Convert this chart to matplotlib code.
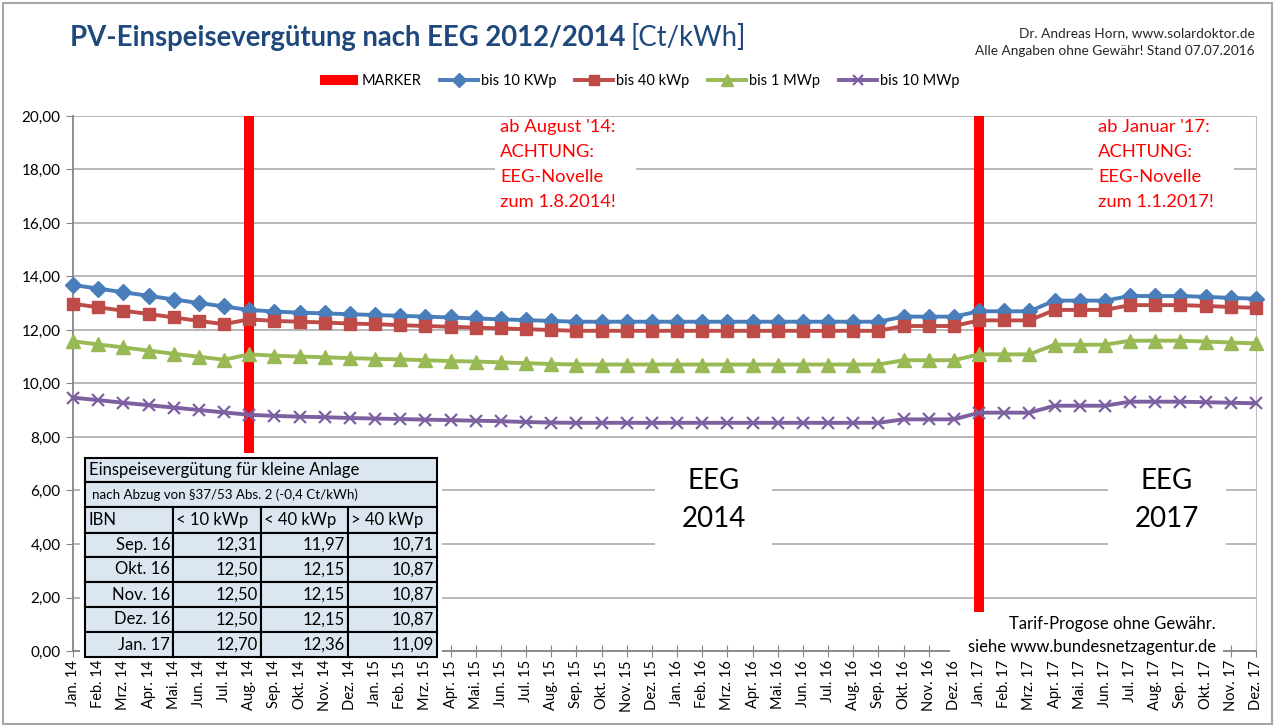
import matplotlib
matplotlib.use("Agg")
import matplotlib.pyplot as plt
from matplotlib.patches import Rectangle, Patch
from matplotlib.lines import Line2D
from matplotlib.ticker import FuncFormatter, MultipleLocator

plt.rcParams['font.family'] = ['Lato', 'DejaVu Sans']

# ---------------- data ----------------
years = ["14", "15", "16", "17"]
month_names = ["Jan.", "Feb.", "Mrz.", "Apr.", "Mai.", "Jun.", "Jul.", "Aug.",
               "Sep.", "Okt.", "Nov.", "Dez."]
months = [f"{m} {y}" for y in years for m in month_names]

marker_vals = [0, 0, 0, 0, 0, 0, 0, 20, 0, 0, 0, 0,
               0, 0, 0, 0, 0, 0, 0, 0, 0, 0, 0, 0,
               0, 0, 0, 0, 0, 0, 0, 0, 0, 0, 0, 0,
               20, 0, 0, 0, 0, 0, 0, 0, 0, 0, 0, 0]

bis_10kwp = [13.68, 13.55, 13.41, 13.28, 13.14, 13.01, 12.88, 12.75, 12.69, 12.65, 12.62, 12.59,
             12.56, 12.53, 12.50, 12.47, 12.43, 12.40, 12.37, 12.34, 12.31, 12.31, 12.31, 12.31,
             12.31, 12.31, 12.31, 12.31, 12.31, 12.31, 12.31, 12.31, 12.31, 12.50, 12.50, 12.50,
             12.70, 12.70, 12.70, 13.10, 13.10, 13.10, 13.27, 13.27, 13.27, 13.24, 13.20, 13.17]

bis_40kwp = [12.98, 12.85, 12.72, 12.60, 12.47, 12.34, 12.22, 12.40, 12.34, 12.31, 12.28, 12.24,
             12.22, 12.18, 12.15, 12.12, 12.09, 12.06, 12.03, 12.00, 11.97, 11.97, 11.97, 11.97,
             11.97, 11.97, 11.97, 11.97, 11.97, 11.97, 11.97, 11.97, 11.97, 12.15, 12.15, 12.15,
             12.36, 12.36, 12.36, 12.75, 12.75, 12.75, 12.93, 12.93, 12.93, 12.90, 12.86, 12.83]

bis_1mwp = [11.58, 11.46, 11.35, 11.23, 11.11, 11.00, 10.89, 11.09, 11.04, 11.01, 10.98, 10.95,
            10.92, 10.90, 10.87, 10.84, 10.82, 10.79, 10.76, 10.73, 10.71, 10.71, 10.71, 10.71,
            10.71, 10.71, 10.71, 10.71, 10.71, 10.71, 10.71, 10.71, 10.71, 10.87, 10.87, 10.87,
            11.09, 11.09, 11.09, 11.45, 11.45, 11.45, 11.60, 11.60, 11.60, 11.57, 11.53, 11.50]

bis_10mwp = [9.47, 9.38, 9.28, 9.19, 9.10, 9.01, 8.92, 8.83, 8.79, 8.76, 8.74, 8.71,
             8.69, 8.67, 8.65, 8.63, 8.61, 8.59, 8.56, 8.54, 8.53, 8.53, 8.53, 8.53,
             8.53, 8.53, 8.53, 8.53, 8.53, 8.53, 8.53, 8.53, 8.53, 8.66, 8.66, 8.66,
             8.91, 8.91, 8.91, 9.17, 9.17, 9.17, 9.32, 9.32, 9.32, 9.30, 9.28, 9.26]

series_names = ["bis 10 KWp", "bis 40 kWp", "bis 1 MWp", "bis 10 MWp"]

table_title = "Einspeisevergütung für kleine Anlage"
table_sub = "nach Abzug von §37/53 Abs. 2 (-0,4 Ct/kWh)"
table_header = ["IBN", "< 10 kWp", "< 40 kWp", "> 40 kWp"]
table_dates = ["Sep. 16", "Okt. 16", "Nov. 16", "Dez. 16", "Jan. 17"]
table_10 = ["12,31", "12,50", "12,50", "12,50", "12,70"]
table_40 = ["11,97", "12,15", "12,15", "12,15", "12,36"]
table_gt40 = ["10,71", "10,87", "10,87", "10,87", "11,09"]

# ---------------- figure ----------------
W, H = 1275, 725
fig = plt.figure(figsize=(12.75, 7.25), dpi=100)
fig.patch.set_facecolor('white')


def fx(x):
    return x / W


def fy(y):
    return 1 - y / H


ax = fig.add_axes([fx(73), fy(651), (1256 - 73) / W, (651 - 116) / H])
xs = list(range(len(months)))

ax.bar(xs, marker_vals, width=0.4, color='#FF0000', zorder=1.5)

styles = [
    dict(color='#4A7EBB', marker='D', ms=8),
    dict(color='#BE4B48', marker='s', ms=8.5),
    dict(color='#98B954', marker='^', ms=9.5),
    dict(color='#7D60A0', marker='x', ms=9, mew=1.6),
]
for vals, st in zip([bis_10kwp, bis_40kwp, bis_1mwp, bis_10mwp], styles):
    ax.plot(xs, vals, lw=2.8, clip_on=False, zorder=3, **st)

ax.set_xlim(0, len(months) - 1)
ax.set_ylim(0, 20)
ax.yaxis.set_major_locator(MultipleLocator(2))
ax.yaxis.set_major_formatter(FuncFormatter(lambda v, p: f"{v:.2f}".replace('.', ',')))
ax.set_xticks(xs)
ax.set_xticklabels(months, rotation=90, fontsize=10.5)
ax.tick_params(axis='y', labelsize=11, length=5, color='#868686', direction='out', pad=4)
ax.tick_params(axis='x', length=9, color='#868686', direction='inout', pad=2)
ax.grid(axis='y', color='#ABABAB', lw=1.2)
ax.set_axisbelow(True)
for s in ['left', 'bottom']:
    ax.spines[s].set_color('#868686')
    ax.spines[s].set_linewidth(1.3)
ax.spines['right'].set_color('#BFBFBF')
ax.spines['top'].set_visible(False)

# outer frame
fig.add_artist(Rectangle((fx(3), fy(724)), (1272 - 3) / W, (724 - 3) / H,
                         transform=fig.transFigure, fill=False,
                         edgecolor='#A6A6A6', lw=1.5))

# title
t1 = fig.text(fx(70), fy(38), "PV-Einspeisevergütung nach EEG 2012/2014",
              fontsize=19.8, fontweight='bold', color='#1F497D', va='center')
fig.canvas.draw()
bb = t1.get_window_extent()
fig.text(bb.x1 / W + 0.004, fy(38), "[Ct/kWh]", fontsize=19.8, color='#1F497D', va='center')

fig.text(fx(1255), fy(33), "Dr. Andreas Horn, www.solardoktor.de", fontsize=9.8,
         ha='right', va='center', color='#262626')
fig.text(fx(1255), fy(51), "Alle Angaben ohne Gewähr! Stand 07.07.2016", fontsize=9.8,
         ha='right', va='center', color='#262626')

# legend
handles = [Patch(facecolor='#FF0000', edgecolor='none', label="MARKER")]
for name, st in zip(series_names, styles):
    st2 = dict(st)
    st2['ms'] = st2['ms'] * 0.85
    handles.append(Line2D([], [], lw=2.8, label=name, **st2))
fig.legend(handles=handles, loc='center', bbox_to_anchor=(fx(640), fy(81)), ncol=5,
           frameon=False, fontsize=10.5, handlelength=2.6, handletextpad=0.2,
           columnspacing=1.3)


def white_box(x0, y0, x1, y1):
    fig.add_artist(Rectangle((fx(x0), fy(y1)), (x1 - x0) / W, (y1 - y0) / H,
                             transform=fig.transFigure, facecolor='white',
                             edgecolor='none', zorder=5))


# red notes
white_box(495, 117, 636, 216)
fig.text(fx(500), fy(119), "ab August '14:\nACHTUNG:\nEEG-Novelle\nzum 1.8.2014!",
         color='#FF0000', fontsize=13.2, va='top', ha='left', linespacing=1.68, zorder=6)
white_box(1093, 117, 1234, 216)
fig.text(fx(1098), fy(119), "ab Januar '17:\nACHTUNG:\nEEG-Novelle\nzum 1.1.2017!",
         color='#FF0000', fontsize=13.2, va='top', ha='left', linespacing=1.68, zorder=6)

# EEG labels
white_box(655, 455, 772, 545)
fig.text(fx(714), fy(500), "EEG\n2014", fontsize=20, ha='center', va='center',
         linespacing=1.6, zorder=6)
white_box(1108, 455, 1226, 545)
fig.text(fx(1167), fy(500), "EEG\n2017", fontsize=20, ha='center', va='center',
         linespacing=1.6, zorder=6)

# tarif note
white_box(950, 612, 1223, 660)
fig.text(fx(1216), fy(624), "Tarif-Progose ohne Gewähr.", fontsize=12, ha='right',
         va='center', zorder=6)
fig.text(fx(1216), fy(647), "siehe www.bundesnetzagentur.de", fontsize=12, ha='right',
         va='center', zorder=6)

# table
white_box(80, 453, 442, 660)
cell_fc = '#DCE6F1'


def cell(x0, y0, x1, y1):
    fig.add_artist(Rectangle((fx(x0), fy(y1)), (x1 - x0) / W, (y1 - y0) / H,
                             transform=fig.transFigure, facecolor=cell_fc,
                             edgecolor='black', lw=1.5, zorder=6))


col_edges = [85, 173, 261, 348, 437]
cell(85, 458, 437, 482)
fig.text(fx(89), fy(470), table_title, fontsize=12, va='center', ha='left', zorder=7)
cell(85, 482, 437, 507)
fig.text(fx(92), fy(495), table_sub, fontsize=9.6, va='center', ha='left', zorder=7)
for i, h in enumerate(table_header):
    cell(col_edges[i], 507, col_edges[i + 1], 533)
    fig.text(fx(col_edges[i] + 3), fy(520), h, fontsize=12, va='center', ha='left', zorder=7)
row_edges = [533, 557, 582, 607, 632, 657]
for r, vals in enumerate(zip(table_dates, table_10, table_40, table_gt40)):
    for c, v in enumerate(vals):
        cell(col_edges[c], row_edges[r], col_edges[c + 1], row_edges[r + 1])
        fig.text(fx(col_edges[c + 1] - 3), fy((row_edges[r] + row_edges[r + 1]) / 2), v,
                 fontsize=12, va='center', ha='right', zorder=7)

fig.savefig("out.png", dpi=100, facecolor='white')
